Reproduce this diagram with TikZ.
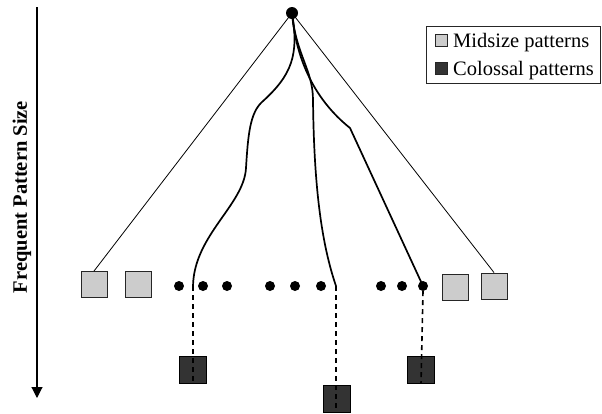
\documentclass[tikz,border=0pt]{standalone}
\usepackage{fontspec}
\setmainfont{Liberation Serif}
\usetikzlibrary{arrows.meta}
\begin{document}
\begin{tikzpicture}[x=1pt, y=-1pt,
    midsq/.style={rectangle, draw=black!85, fill=gray!40, line width=0.9pt, minimum size=26pt, inner sep=0pt},
    colsq/.style={rectangle, draw=black, fill=black!80, line width=0.9pt, minimum size=27pt, inner sep=0pt},
    legsq/.style={rectangle, draw=black!85, line width=0.8pt, minimum size=12pt, inner sep=0pt},
    dotn/.style={circle, fill=black, minimum size=10pt, inner sep=0pt},
    lbl/.style={font=\fontsize{20.5}{24}\selectfont, inner sep=0pt},
    thinl/.style={line width=0.8pt},
    branch/.style={line width=1.7pt},
    drop/.style={line width=1.6pt, dash pattern=on 5pt off 4pt},
    axis/.style={line width=1.1pt, -{Triangle[width=11pt,length=11pt]}}
]
\useasboundingbox (0,0) rectangle (602,413);

% Axis
\coordinate (axtop) at (37,7);
\coordinate (axbot) at (37,398);
\draw[axis] (axtop) -- (axbot);
\node[lbl, font=\fontsize{20.5}{24}\selectfont\bfseries, rotate=90] (axlbl) at (22,197) {Frequent Pattern Size};

% Root and the level of patterns
\node[dotn, minimum size=12pt] (root) at (292,13) {};
\node[midsq] (m1) at (94,284.5) {};
\node[midsq] (m2) at (138,284.5) {};
\node[midsq] (m3) at (455,287) {};
\node[midsq] (m4) at (494,286) {};
\foreach \x [count=\i] in {179,203,227,270,295,321,381,402,423}
    \node[dotn] (d\i) at (\x,286) {};
\coordinate (e1) at (193,286);
\coordinate (e2) at (336,286);

% Colossal patterns
\node[colsq] (c1) at (193,370) {};
\node[colsq] (c2) at (337,399) {};
\node[colsq] (c3) at (421,370) {};

% Thin lines to midsize patterns
\draw[thinl] (root.center) -- (m1.north);
\draw[thinl] (root.center) -- (m4.north);

% Paths towards colossal patterns
\draw[branch] (root.center) .. controls (299,55) and (292,75) .. (262,102)
    .. controls (250,113) and (248,135) .. (246,168)
    .. controls (244,205) and (194,235) .. (e1);
\draw[branch] (root.center) .. controls (296,55) and (313,70) .. (313,100)
    .. controls (314,190) and (322,245) .. (e2);
\draw[branch] (root.center) .. controls (296,60) and (315,100) .. (350,128) -- (d9.center);

\draw[drop] (e1) -- (e1 |- c1.south);
\draw[drop] (e2) -- (e2 |- c2.south);
\draw[drop] (d9.south) -- (c3.south);

% Legend
\node[draw=black!85, line width=0.8pt, minimum width=174pt, minimum height=57pt, inner sep=0pt] (legend) at (513,54.5) {};
\node[legsq, fill=gray!40] (lm) at (441,40) {};
\node[legsq, fill=black!80] (lc) at (441,68.5) {};
\node[lbl, anchor=base west] (lmt) at (453,47) {Midsize patterns};
\node[lbl, anchor=base west] (lct) at (453,75) {Colossal patterns};
\end{tikzpicture}
\end{document}
